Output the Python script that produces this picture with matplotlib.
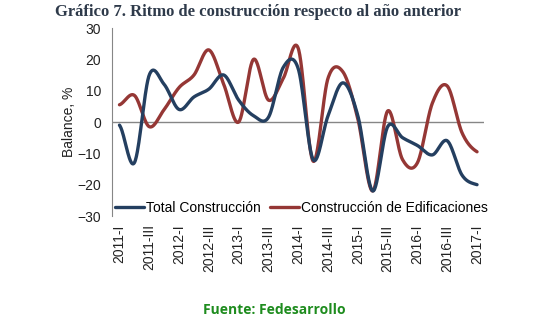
import matplotlib.pyplot as plt
import numpy as np

plt.rcParams['font.family'] = ['Liberation Sans', 'DejaVu Sans']

# trimestres 2011-I a 2017-I
trimestres = ['2011-I', '2011-II', '2011-III', '2011-IV',
              '2012-I', '2012-II', '2012-III', '2012-IV',
              '2013-I', '2013-II', '2013-III', '2013-IV',
              '2014-I', '2014-II', '2014-III', '2014-IV',
              '2015-I', '2015-II', '2015-III', '2015-IV',
              '2016-I', '2016-II', '2016-III', '2016-IV',
              '2017-I']
total_construccion = [-1, -13, 15, 12, 4, 8, 10.5, 15, 7, 2, 1.5, 17.5, 17, -12,
                      2, 12.5, 2, -22, -1.5, -5, -7.5, -10.5, -6, -17, -20]
edificaciones = [5.5, 8.5, -1.5, 4, 11, 15, 23, 12, 0, 20, 7, 14, 23.5, -12.5,
                 14, 16, 1, -22, 3.5, -12, -13, 6, 11.5, -3.5, -9.5]


def suavizar(y, n=30):
    # curva tipo Catmull-Rom, como la línea suavizada de Excel
    y = np.asarray(y, dtype=float)
    p = np.concatenate([[y[0]], y, [y[-1]]])
    xs, ys = [], []
    for i in range(len(y) - 1):
        p0, p1, p2, p3 = p[i], p[i + 1], p[i + 2], p[i + 3]
        t = np.linspace(0, 1, n, endpoint=False)
        c1 = p1 + (p2 - p0) / 6
        c2 = p2 - (p3 - p1) / 6
        yy = ((1 - t) ** 3 * p1 + 3 * (1 - t) ** 2 * t * c1
              + 3 * (1 - t) * t ** 2 * c2 + t ** 3 * p2)
        xs.append(i + t)
        ys.append(yy)
    xs.append([len(y) - 1])
    ys.append([y[-1]])
    return np.concatenate(xs), np.concatenate(ys)


fig = plt.figure(figsize=(5.54, 3.35), dpi=100)
ax = fig.add_axes([0.2022, 0.3552, 0.6723, 0.5612])

ax.axhline(0, color='#868686', linewidth=1, zorder=1)
x1, y1 = suavizar(total_construccion)
x2, y2 = suavizar(edificaciones)
ax.plot(x1, y1, color='#243f60', linewidth=2.4, label='Total Construcción', zorder=3,
        solid_capstyle='round')
ax.plot(x2, y2, color='#953735', linewidth=2.4, label='Construcción de Edificaciones',
        zorder=2, solid_capstyle='round')

ax.set_xlim(-0.5, len(trimestres) - 0.5)
ax.set_ylim(-30, 30)
ax.set_yticks(range(-30, 31, 10))
ax.set_xticks(range(0, len(trimestres), 2))
ax.set_xticklabels(trimestres[::2], rotation=90)
ax.tick_params(axis='both', length=0, labelsize=10, colors='#222222')
ax.tick_params(axis='y', pad=8)
ax.tick_params(axis='x', pad=6)
ax.set_ylabel('Balance, %', fontsize=10, color='#222222', labelpad=1)

for s in ['top', 'right', 'bottom']:
    ax.spines[s].set_visible(False)
ax.spines['left'].set_color('#868686')

ax.legend(loc='lower left', ncol=2, frameon=False, fontsize=10,
          handlelength=2.1, handletextpad=0.1, columnspacing=0.7,
          borderpad=0.0, borderaxespad=0.0, bbox_to_anchor=(0.008, 0.005))

fig.text(0.466, 0.965, 'Gráfico 7. Ritmo de construcción respecto al año anterior',
         ha='center', va='center', fontsize=12, fontweight='bold',
         family=['Liberation Serif', 'DejaVu Serif'], color='#2e3a4a')
fig.text(0.495, 0.075, 'Fuente: Fedesarrollo', ha='center', va='center',
         fontsize=10, fontweight='bold', family=['Open Sans', 'DejaVu Sans'],
         color='#1e8c1e')

fig.savefig('out.png', dpi=100)
